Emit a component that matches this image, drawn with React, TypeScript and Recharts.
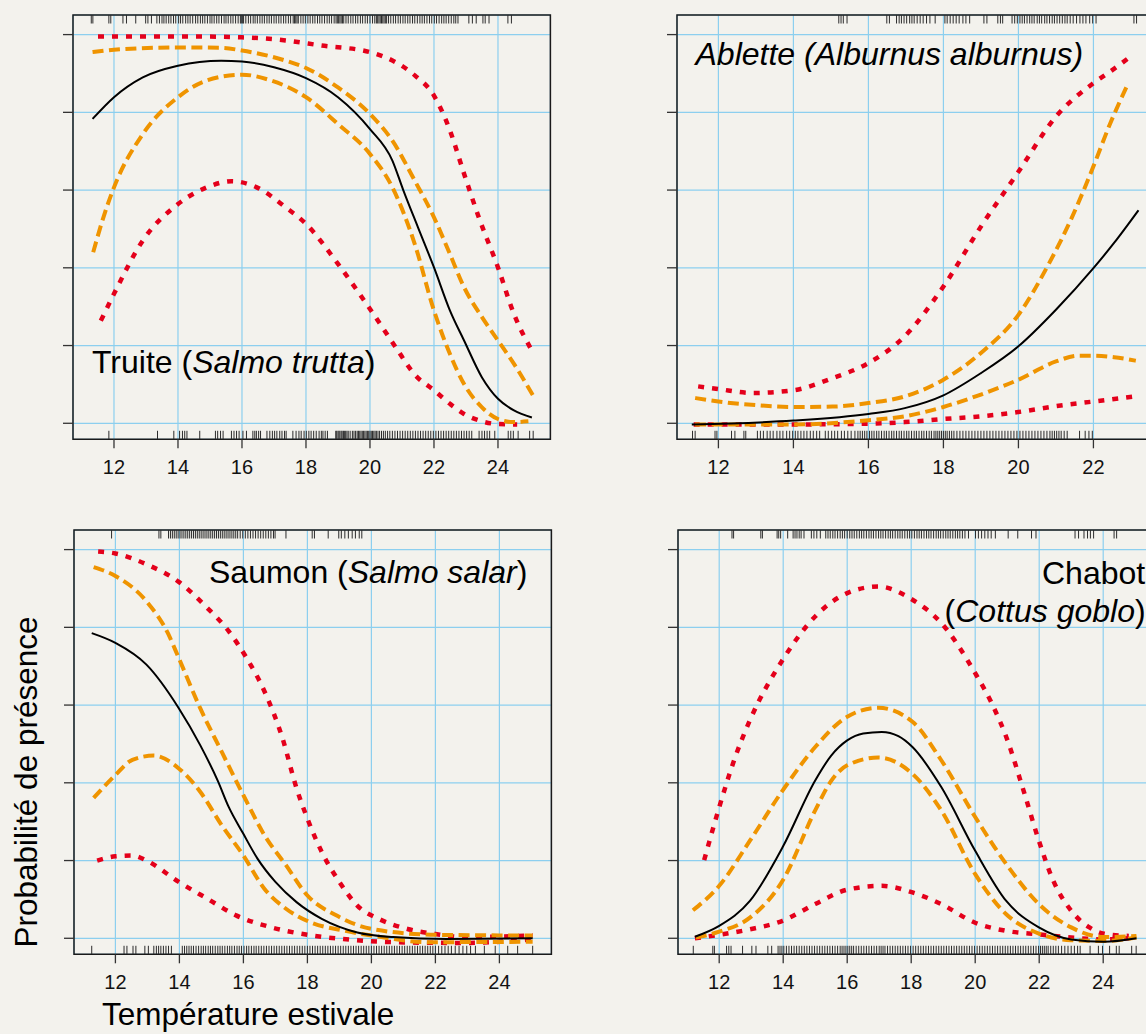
import { ComposedChart, Line, Scatter, XAxis, YAxis, CartesianGrid, ReferenceArea } from "recharts";

type Pt = [number, number];

const BG = "#F3F2ED";
const RED = "#E4001B";
const ORANGE = "#EF9400";
const GRID = "#8CCFEF";
const FONT = "'Liberation Sans', Arial, Helvetica, sans-serif";

const xTicks = [12, 14, 16, 18, 20, 22, 24];
const xTicksAblette = [12, 14, 16, 18, 20, 22];
const yTicks = [0, 0.2, 0.4, 0.6, 0.8, 1];
const yDomain: [number, number] = [-0.0412, 1.0504];

// Truite (Salmo trutta)
const truiteFit: Pt[] = [[11.33, 0.783], [12, 0.839], [12.9, 0.89], [14, 0.92], [15.35, 0.933], [16, 0.931], [17, 0.916], [18, 0.888], [19, 0.839], [20, 0.757], [20.7, 0.676], [21.04, 0.6], [21.5, 0.504], [22, 0.401], [22.5, 0.29], [22.94, 0.213], [23.5, 0.118], [24, 0.063], [24.5, 0.033], [25.06, 0.015]];
const truiteSeHi: Pt[] = [[11.33, 0.955], [12, 0.961], [14, 0.967], [15.35, 0.966], [16, 0.959], [17.36, 0.933], [18, 0.914], [19, 0.864], [20, 0.796], [20.7, 0.727], [21.4, 0.624], [22, 0.53], [22.5, 0.435], [22.94, 0.35], [23.5, 0.273], [24, 0.213], [24.5, 0.153], [25.1, 0.071]];
const truiteSeLo: Pt[] = [[11.35, 0.44], [11.67, 0.53], [12, 0.607], [12.9, 0.744], [14, 0.839], [14.9, 0.882], [16, 0.897], [16.9, 0.882], [18, 0.839], [19, 0.77], [20, 0.693], [20.7, 0.607], [21.4, 0.461], [22, 0.29], [22.5, 0.178], [22.94, 0.101], [23.5, 0.041], [24, 0.011], [24.5, 0.003], [24.95, 0.005]];
const truiteCiHi: Pt[] = [[11.5, 0.995], [13, 0.995], [14.5, 0.995], [16, 0.993], [17.36, 0.985], [18.47, 0.972], [20, 0.955], [20.8, 0.929], [21.4, 0.895], [22, 0.843], [22.5, 0.753], [22.94, 0.642], [23.4, 0.53], [24, 0.401], [24.5, 0.281], [25.06, 0.187]];
const truiteCiLo: Pt[] = [[11.59, 0.264], [12, 0.333], [12.9, 0.47], [14, 0.564], [14.9, 0.607], [15.68, 0.623], [16.46, 0.607], [17.36, 0.556], [18, 0.513], [19, 0.41], [20, 0.294], [20.8, 0.196], [21.4, 0.125], [22, 0.085], [22.5, 0.05], [22.94, 0.024], [23.5, 0.005], [24, -0.002], [24.6, -0.003]];
const truiteRugTop = [11.29, 11.34, 11.84, 11.9, 12.28, 12.39, 12.68, 12.99, 13.06, 13.17, 13.34, 13.42, 13.5, 13.56, 13.63, 13.71, 13.78, 13.86, 13.93, 14.02, 14.08, 14.15, 14.24, 14.31, 14.38, 14.46, 14.55, 14.62, 14.7, 14.77, 14.84, 14.92, 15.0, 15.06, 15.13, 15.21, 15.28, 15.36, 15.44, 15.5, 15.57, 15.65, 15.72, 15.8, 15.88, 15.95, 15.98, 16.02, 16.05, 16.12, 16.2, 16.27, 16.35, 16.41, 16.48, 16.56, 16.63, 16.7, 16.78, 16.85, 16.92, 17.0, 17.07, 17.15, 17.22, 17.3, 17.37, 17.45, 17.52, 17.6, 17.64, 17.68, 17.72, 17.76, 17.84, 17.91, 17.98, 18.06, 18.13, 18.21, 18.28, 18.36, 18.43, 18.5, 18.58, 18.66, 18.73, 18.8, 18.88, 18.94, 18.98, 19.02, 19.06, 19.1, 19.14, 19.18, 19.25, 19.32, 19.4, 19.47, 19.55, 19.62, 19.7, 19.77, 19.85, 19.92, 20.0, 20.08, 20.15, 20.2, 20.24, 20.28, 20.32, 20.36, 20.4, 20.44, 20.48, 20.52, 20.58, 20.65, 20.73, 20.8, 20.88, 20.95, 21.03, 21.1, 21.18, 21.25, 21.33, 21.4, 21.48, 21.56, 21.63, 21.7, 21.78, 21.86, 21.93, 22.01, 22.08, 22.16, 22.24, 22.31, 22.38, 22.46, 22.54, 22.62, 22.68, 22.75, 23.09, 23.2, 23.32, 23.53, 23.6, 23.72, 24.31, 24.42];
const truiteRugBottom = [11.84, 13.36, 13.87, 14.05, 14.14, 14.21, 14.28, 14.68, 15.17, 15.24, 15.33, 15.41, 15.67, 15.75, 15.83, 15.91, 16.03, 16.14, 16.34, 16.4, 16.45, 16.52, 16.58, 16.78, 16.87, 16.95, 17.02, 17.09, 17.18, 17.25, 17.33, 17.38, 17.59, 17.69, 17.78, 17.85, 17.94, 18.01, 18.09, 18.16, 18.24, 18.32, 18.41, 18.48, 18.53, 18.6, 18.67, 18.93, 18.96, 19.0, 19.03, 19.06, 19.1, 19.13, 19.17, 19.2, 19.24, 19.28, 19.32, 19.38, 19.45, 19.5, 19.55, 19.6, 19.64, 19.68, 19.72, 19.76, 19.8, 19.84, 19.88, 19.92, 19.96, 20.0, 20.04, 20.08, 20.12, 20.16, 20.2, 20.25, 20.3, 20.36, 20.42, 20.48, 20.55, 20.62, 20.7, 20.78, 20.86, 20.94, 21.02, 21.1, 21.18, 21.26, 21.34, 21.42, 21.5, 21.58, 21.66, 21.74, 21.82, 21.9, 21.98, 22.06, 22.14, 22.22, 22.3, 22.38, 22.46, 22.54, 22.62, 22.7, 22.78, 22.86, 22.94, 23.02, 23.1, 23.18, 23.41, 23.5, 23.58, 23.66, 23.74, 23.9, 24.32, 24.4, 24.48, 24.63, 24.99, 25.1];

// Ablette (Alburnus alburnus)
const abletteFit: Pt[] = [[11.29, -0.003], [14, 0.007], [16, 0.024], [16.97, 0.039], [18, 0.072], [19, 0.129], [20, 0.198], [21, 0.292], [22, 0.399], [22.55, 0.464], [23.2, 0.548]];
const abletteSeHi: Pt[] = [[11.38, 0.065], [12, 0.056], [13.1, 0.046], [14, 0.042], [15.04, 0.043], [16, 0.052], [16.97, 0.069], [18, 0.112], [19, 0.181], [20, 0.279], [20.82, 0.412], [21.4, 0.524], [22, 0.661], [22.45, 0.772], [22.93, 0.875]];
const abletteSeLo: Pt[] = [[11.38, -0.003], [14, -0.003], [16, 0.008], [16.97, 0.018], [18, 0.042], [19, 0.074], [20, 0.112], [21, 0.159], [21.6, 0.174], [22, 0.174], [22.55, 0.17], [23.13, 0.161]];
const abletteCiHi: Pt[] = [[11.46, 0.095], [12, 0.088], [12.92, 0.078], [14, 0.085], [15.04, 0.116], [16, 0.155], [16.97, 0.224], [18, 0.352], [19, 0.506], [20, 0.647], [21, 0.789], [22, 0.875], [22.45, 0.905], [22.98, 0.943]];
const abletteCiLo: Pt[] = [[11.34, -0.003], [14, -0.003], [16, -0.001], [16.97, 0.003], [18, 0.011], [19, 0.018], [20, 0.029], [21, 0.044], [22, 0.056], [23.08, 0.069]];
const abletteRugTop = [15.21, 15.27, 15.33, 15.43, 16.49, 16.56, 16.75, 16.82, 16.88, 16.95, 17.02, 17.1, 17.16, 17.22, 17.3, 17.38, 17.46, 17.55, 17.64, 17.78, 18.04, 18.1, 18.18, 18.26, 18.34, 18.42, 18.52, 18.6, 18.7, 19.08, 19.16, 19.45, 19.52, 19.58, 19.83, 19.9, 19.97, 20.04, 20.1, 20.16, 20.23, 20.3, 20.36, 20.42, 20.5, 20.56, 20.62, 20.7, 20.76, 20.83, 20.9, 20.96, 21.03, 21.1, 21.17, 21.24, 21.3, 21.38, 21.46, 21.55, 21.64, 21.72, 21.8, 21.9, 21.98, 22.07, 23.08, 23.15];
const abletteRugBottom = [11.31, 11.38, 11.91, 11.96, 12.35, 12.44, 12.68, 12.73, 13.04, 13.12, 13.2, 13.3, 13.38, 13.46, 13.56, 13.64, 13.72, 13.82, 13.9, 13.98, 14.05, 14.12, 14.2, 14.28, 14.36, 14.45, 14.53, 14.62, 14.7, 14.85, 14.93, 15.02, 15.1, 15.18, 15.28, 15.36, 15.45, 15.54, 15.64, 15.72, 15.78, 15.84, 15.9, 15.96, 16.03, 16.09, 16.15, 16.22, 16.28, 16.35, 16.42, 16.48, 16.55, 16.62, 16.68, 16.75, 16.82, 16.88, 16.95, 17.02, 17.08, 17.15, 17.22, 17.28, 17.35, 17.42, 17.48, 17.55, 17.62, 17.68, 17.75, 17.8, 17.85, 17.9, 17.95, 18.0, 18.05, 18.1, 18.16, 18.22, 18.28, 18.36, 18.44, 18.52, 18.6, 18.68, 18.76, 18.84, 18.92, 19.0, 19.08, 19.16, 19.24, 19.32, 19.4, 19.48, 19.56, 19.64, 19.72, 19.8, 19.88, 19.96, 20.04, 20.12, 20.2, 20.28, 20.36, 20.44, 20.52, 20.6, 20.68, 20.76, 20.84, 20.9, 20.96, 21.02, 21.08, 21.14, 21.22, 21.3, 21.63, 21.78, 21.88, 21.97];

// Saumon (Salmo salar)
const saumonFit: Pt[] = [[11.26, 0.785], [12, 0.76], [12.97, 0.704], [13.98, 0.592], [14.65, 0.497], [15.2, 0.405], [15.54, 0.338], [15.99, 0.27], [16.44, 0.205], [17, 0.145], [17.66, 0.093], [18.45, 0.05], [19.56, 0.015], [20.68, 0.003], [22.36, -0.002], [25.04, 0]];
const saumonSeHi: Pt[] = [[11.32, 0.955], [12, 0.932], [12.97, 0.867], [13.64, 0.785], [13.98, 0.721], [14.65, 0.592], [15.32, 0.48], [16, 0.368], [16.66, 0.265], [17.33, 0.188], [18, 0.11], [18.9, 0.059], [20.01, 0.024], [22, 0.009], [25.04, 0.007]];
const saumonSeLo: Pt[] = [[11.32, 0.361], [12, 0.42], [12.53, 0.459], [13.2, 0.47], [13.98, 0.437], [14.65, 0.377], [15.32, 0.291], [16, 0.213], [16.66, 0.127], [17.33, 0.076], [18.1, 0.041], [19.12, 0.02], [20.01, 0.007], [21.8, -0.01], [25.04, -0.009]];
const saumonCiHi: Pt[] = [[11.46, 0.995], [12, 0.99], [12.97, 0.962], [13.98, 0.917], [14.87, 0.85], [15.54, 0.79], [16.1, 0.721], [16.66, 0.635], [17.22, 0.515], [17.66, 0.386], [18, 0.308], [18.45, 0.222], [19, 0.145], [19.56, 0.084], [20.23, 0.05], [21.13, 0.024], [22, 0.011], [22.9, 0.003], [25.04, 0.007]];
const saumonCiLo: Pt[] = [[11.43, 0.2], [12, 0.211], [12.53, 0.213], [12.97, 0.2], [13.98, 0.145], [14.87, 0.102], [15.77, 0.059], [16.88, 0.028], [18, 0.009], [19.12, -0.002], [20.68, -0.01], [22.9, -0.012], [25.04, -0.003]];
const saumonRugTop = [11.88, 13.36, 13.42, 13.66, 13.72, 13.78, 13.84, 13.9, 13.96, 14.02, 14.08, 14.14, 14.2, 14.26, 14.32, 14.38, 14.44, 14.5, 14.56, 14.62, 14.68, 14.74, 14.8, 14.86, 14.92, 14.98, 15.04, 15.1, 15.16, 15.22, 15.28, 15.34, 15.4, 15.46, 15.52, 15.58, 15.64, 15.7, 15.76, 15.82, 15.9, 15.98, 16.06, 16.14, 16.22, 16.3, 16.38, 16.46, 16.54, 16.62, 16.7, 16.78, 16.86, 16.94, 16.99, 17.33, 18.15, 18.22, 18.65, 18.98, 19.06, 19.17, 19.28, 19.4, 19.5, 19.62, 19.7];
const saumonRugBottom = [11.26, 12.27, 12.36, 12.55, 12.64, 12.92, 13.03, 13.2, 13.28, 13.35, 13.42, 13.5, 13.58, 13.66, 13.75, 14.09, 14.16, 14.23, 14.3, 14.37, 14.44, 14.52, 14.6, 14.68, 14.75, 14.82, 14.9, 14.97, 15.04, 15.12, 15.2, 15.27, 15.34, 15.42, 15.5, 15.57, 15.64, 15.72, 15.8, 15.87, 15.94, 16.02, 16.1, 16.17, 16.25, 16.33, 16.4, 16.48, 16.56, 16.64, 16.72, 16.8, 16.88, 16.96, 17.04, 17.12, 17.2, 17.28, 17.36, 17.44, 17.52, 17.6, 17.68, 17.76, 17.84, 17.92, 18.0, 18.08, 18.16, 18.24, 18.32, 18.4, 18.48, 18.56, 18.64, 18.72, 18.8, 18.88, 18.96, 19.04, 19.12, 19.2, 19.28, 19.36, 19.44, 19.52, 19.6, 19.68, 19.76, 19.84, 19.92, 20.0, 20.08, 20.16, 20.24, 20.32, 20.4, 20.48, 20.56, 20.64, 20.72, 20.8, 20.88, 20.96, 21.04, 21.12, 21.2, 21.28, 21.36, 21.44, 21.52, 21.6, 21.68, 21.76, 21.84, 21.92, 22.0, 22.1, 22.2, 22.3, 22.4, 22.5, 22.62, 22.74, 22.86, 22.98, 23.1, 23.25, 23.53, 23.87, 24.26, 24.57, 25.04];

// Chabot (Cottus goblo)
const chabotFit: Pt[] = [[11.24, 0.004], [12, 0.032], [12.96, 0.096], [13.98, 0.234], [15, 0.406], [15.5, 0.47], [16, 0.509], [16.5, 0.527], [17.08, 0.531], [17.6, 0.52], [18.04, 0.492], [18.94, 0.389], [20, 0.225], [20.97, 0.096], [21.99, 0.028], [23, -0.003], [24.02, -0.009], [25.04, 0]];
const chabotSeHi: Pt[] = [[11.18, 0.072], [12, 0.135], [12.96, 0.251], [13.98, 0.38], [15, 0.492], [16, 0.57], [16.97, 0.593], [18.04, 0.557], [18.94, 0.458], [20, 0.312], [20.97, 0.191], [21.99, 0.088], [23, 0.028], [24.02, 0.003], [25.04, 0.006]];
const chabotSeLo: Pt[] = [[11.27, 0.002], [12, 0.017], [12.96, 0.053], [13.98, 0.148], [15, 0.329], [15.5, 0.405], [16, 0.445], [16.97, 0.465], [18.04, 0.423], [18.94, 0.329], [20, 0.165], [20.97, 0.062], [21.99, 0.012], [23, -0.005], [24.02, -0.007], [25.04, 0.002]];
const chabotCiHi: Pt[] = [[11.53, 0.201], [12, 0.337], [12.5, 0.466], [12.96, 0.561], [13.98, 0.716], [15, 0.828], [16, 0.888], [16.97, 0.905], [18.04, 0.871], [18.94, 0.811], [20, 0.682], [20.52, 0.604], [20.97, 0.518], [21.54, 0.372], [21.99, 0.251], [22.44, 0.148], [23, 0.071], [23.57, 0.028], [24.02, 0.012], [24.8, 0.006]];
const chabotCiLo: Pt[] = [[11.24, 0], [12, 0.009], [12.96, 0.023], [13.98, 0.045], [15, 0.088], [16, 0.125], [17.08, 0.135], [18.04, 0.118], [18.94, 0.088], [20, 0.04], [20.97, 0.019], [21.99, 0.01], [23, 0.002], [24.02, -0.003], [24.8, 0]];
const chabotRugTop = [12.4, 12.45, 13.3, 13.35, 13.81, 13.86, 13.92, 14.14, 14.31, 14.37, 14.43, 14.5, 14.56, 14.65, 14.88, 14.96, 15.05, 15.16, 15.33, 15.4, 15.47, 15.55, 15.62, 15.7, 15.78, 15.85, 15.92, 16.0, 16.08, 16.15, 16.22, 16.3, 16.38, 16.45, 16.52, 16.6, 16.68, 16.75, 16.82, 16.9, 16.98, 17.05, 17.12, 17.2, 17.28, 17.35, 17.42, 17.5, 17.58, 17.65, 17.72, 17.8, 17.88, 17.95, 18.02, 18.1, 18.18, 18.25, 18.32, 18.4, 18.48, 18.55, 18.62, 18.7, 18.78, 18.85, 18.92, 19.0, 19.08, 19.15, 19.22, 19.3, 19.38, 19.45, 19.52, 19.6, 19.68, 19.79, 20.01, 20.1, 20.2, 20.3, 20.4, 20.5, 20.63, 21.03, 21.33, 21.76, 21.9, 23.12, 23.23, 23.4, 23.51, 23.6, 23.7, 24.34, 24.42];
const chabotRugBottom = [11.19, 11.8, 11.85, 12.23, 12.3, 12.37, 12.73, 13.02, 13.15, 13.52, 13.64, 13.84, 13.9, 13.96, 14.02, 14.1, 14.18, 14.26, 14.34, 14.42, 14.5, 14.58, 14.66, 14.74, 14.82, 14.9, 14.98, 15.06, 15.14, 15.22, 15.3, 15.38, 15.46, 15.54, 15.62, 15.7, 15.78, 15.84, 15.9, 15.96, 16.02, 16.08, 16.14, 16.2, 16.28, 16.36, 16.44, 16.52, 16.6, 16.68, 16.76, 16.84, 16.92, 17.0, 17.06, 17.12, 17.18, 17.26, 17.34, 17.42, 17.5, 17.58, 17.66, 17.74, 17.82, 17.9, 17.98, 18.06, 18.14, 18.22, 18.3, 18.38, 18.46, 18.54, 18.62, 18.7, 18.78, 18.86, 18.94, 19.02, 19.1, 19.18, 19.26, 19.34, 19.42, 19.5, 19.58, 19.66, 19.74, 19.82, 19.9, 19.98, 20.06, 20.14, 20.22, 20.3, 20.38, 20.46, 20.54, 20.62, 20.7, 20.78, 20.86, 20.94, 21.02, 21.1, 21.18, 21.26, 21.34, 21.42, 21.5, 21.58, 21.66, 21.74, 21.82, 21.9, 21.98, 22.04, 22.1, 22.16, 22.22, 22.28, 22.36, 22.44, 22.52, 22.6, 22.7, 22.8, 22.9, 23.0, 23.1, 23.2, 23.28, 23.59, 23.85, 23.98, 24.2, 24.41, 24.5, 24.89, 25.03];

interface PanelProps {
  left: number; // plot area, page px
  top: number;
  width: number;
  height: number;
  xDomain: [number, number];
  xTickList: number[];
  fit: Pt[];
  seHi: Pt[];
  seLo: Pt[];
  ciHi: Pt[];
  ciLo: Pt[];
  rugTop: number[];
  rugBottom: number[];
}

const ML = 20;
const MT = 6;
const MR = 6;
const XAXIS_H = 44;

const toRows = (pts: Pt[]) => pts.map(([t, p]) => ({ t, p }));

const rugShape = (dir: number) => (props: any) => {
  const { cx, cy } = props;
  if (cx == null || cy == null) return <g />;
  return <line x1={cx} x2={cx} y1={cy} y2={cy + dir * 8.5} stroke="#2a2a2a" strokeWidth={1} />;
};

// y axis has tick marks but no labels
const NoLabel = () => <g />;

function Panel(p: PanelProps) {
  const w = ML + p.width + MR;
  const h = MT + p.height + XAXIS_H;
  const line = (pts: Pt[], kind: "fit" | "se" | "ci", key: string) => (
    <Line
      key={key}
      data={toRows(pts)}
      dataKey="p"
      type="monotone"
      stroke={kind === "fit" ? "#000" : kind === "se" ? ORANGE : RED}
      strokeWidth={kind === "fit" ? 2 : kind === "se" ? 4 : 4.5}
      strokeDasharray={kind === "fit" ? undefined : kind === "se" ? "11 5.5" : "6 8"}
      dot={false}
      activeDot={false}
      isAnimationActive={false}
    />
  );
  return (
    <div style={{ position: "absolute", left: p.left - ML, top: p.top - MT }}>
      <ComposedChart width={w} height={h} margin={{ top: MT, left: ML - 10, right: MR, bottom: 0 }}>
        <CartesianGrid stroke={GRID} strokeWidth={1.2} />
        <XAxis
          dataKey="t"
          type="number"
          domain={p.xDomain}
          allowDataOverflow
          ticks={p.xTickList}
          interval={0}
          height={XAXIS_H}
          axisLine={false}
          tickSize={9}
          tickMargin={12}
          tickLine={{ stroke: "#333", strokeWidth: 1.3 }}
          tick={{ fill: "#111", fontSize: 20, fontFamily: FONT }}
        />
        <YAxis
          type="number"
          domain={yDomain}
          allowDataOverflow
          ticks={yTicks}
          interval={0}
          width={10}
          axisLine={false}
          tickSize={10}
          tickLine={{ stroke: "#333", strokeWidth: 1.3 }}
          tick={NoLabel}
        />
        {line(p.ciLo, "ci", "cil")}
        {line(p.ciHi, "ci", "cih")}
        {line(p.seLo, "se", "sel")}
        {line(p.seHi, "se", "seh")}
        {line(p.fit, "fit", "fit")}
        <Scatter
          data={p.rugTop.map((t) => ({ t, r: yDomain[1] }))}
          dataKey="r"
          shape={rugShape(1)}
          isAnimationActive={false}
        />
        <Scatter
          data={p.rugBottom.map((t) => ({ t, r: yDomain[0] }))}
          dataKey="r"
          shape={rugShape(-1)}
          isAnimationActive={false}
        />
        <ReferenceArea
          x1={p.xDomain[0]}
          x2={p.xDomain[1]}
          y1={yDomain[0]}
          y2={yDomain[1]}
          fill="none"
          stroke="#1a1a1a"
          strokeWidth={1.5}
          ifOverflow="visible"
        />
      </ComposedChart>
    </div>
  );
}

export default function App() {
  return (
    <div
      style={{
        position: "absolute",
        left: 0,
        top: 0,
        width: 1146,
        height: 1034,
        overflow: "hidden",
        background: BG,
        fontFamily: FONT,
      }}
    >
      <Panel left={73.3} top={14.7} width={477.4} height={424.3} xDomain={[10.719, 25.638]} xTickList={xTicks}
        fit={truiteFit} seHi={truiteSeHi} seLo={truiteSeLo} ciHi={truiteCiHi} ciLo={truiteCiLo}
        rugTop={truiteRugTop} rugBottom={truiteRugBottom} />
      <Panel left={677.3} top={14.7} width={540.2} height={424.3} xDomain={[10.896, 25.3]} xTickList={xTicksAblette}
        fit={abletteFit} seHi={abletteSeHi} seLo={abletteSeLo} ciHi={abletteCiHi} ciLo={abletteCiLo}
        rugTop={abletteRugTop} rugBottom={abletteRugBottom} />
      <Panel left={74} top={529.5} width={477.4} height={424.3} xDomain={[10.706, 25.625]} xTickList={xTicks}
        fit={saumonFit} seHi={saumonSeHi} seLo={saumonSeLo} ciHi={saumonCiHi} ciLo={saumonCiLo}
        rugTop={saumonRugTop} rugBottom={saumonRugBottom} />
      <Panel left={677.8} top={529.5} width={477.4} height={424.3} xDomain={[10.7125, 25.631]} xTickList={xTicks}
        fit={chabotFit} seHi={chabotSeHi} seLo={chabotSeLo} ciHi={chabotCiHi} ciLo={chabotCiLo}
        rugTop={chabotRugTop} rugBottom={chabotRugBottom} />

      <svg width={1146} height={1034} style={{ position: "absolute", left: 0, top: 0, pointerEvents: "none" }}>
        <g fontFamily={FONT} fontSize={32} fill="#000">
          <text x={92} y={373}>
            Truite (<tspan fontStyle="italic">Salmo trutta</tspan>)
          </text>
          <text x={695.5} y={65} fontStyle="italic">
            Ablette (Alburnus alburnus)
          </text>
          <text x={209} y={583}>
            Saumon (<tspan fontStyle="italic">Salmo salar</tspan>)
          </text>
          <text x={1042} y={584}>Chabot</text>
          <text x={944.6} y={622}>
            (<tspan fontStyle="italic">Cottus goblo</tspan>)
          </text>
        </g>
        <g fontFamily={FONT} fontSize={31.5} fill="#000">
          <text x={102} y={1025}>Température estivale</text>
          <text x={0} y={0} textAnchor="middle" transform="translate(36.8 782) rotate(-90)">
            Probabilité de présence
          </text>
        </g>
      </svg>
    </div>
  );
}
